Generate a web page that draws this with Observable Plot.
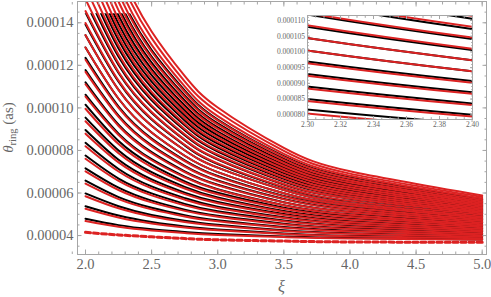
<!DOCTYPE html>
<html><head><meta charset="utf-8">
<script src="https://cdn.jsdelivr.net/npm/d3@7"></script>
<script src="https://cdn.jsdelivr.net/npm/@observablehq/plot@0.6"></script>
<style>
body{margin:0;background:#fff;}
#wrap{position:relative;width:491px;height:297px;overflow:hidden;}
#inset{position:absolute;left:268px;top:10px;}
svg, svg text, svg tspan{font-family:"Liberation Serif","DejaVu Serif",serif !important;}
</style></head><body>
<div id="wrap"><div id="main"></div><div id="inset"></div></div>
<script>
// xi sample positions
const xi = [2, 2.25, 2.5, 2.75, 3, 3.5, 4, 5];
// theta_ring values, in units of 1e-5 as, at the xi positions
const redCurves = [
  [4.68,4.41,4.24,4.12,4.03,3.93,3.86,3.80],
  [5.26,4.85,4.57,4.38,4.25,4.07,3.97,3.87],
  [5.85,5.28,4.90,4.64,4.46,4.22,4.09,3.94],
  [6.44,5.71,5.23,4.90,4.67,4.37,4.20,4.02],
  [7.02,6.14,5.56,5.16,4.88,4.52,4.31,4.09],
  [7.61,6.57,5.89,5.42,5.09,4.67,4.42,4.17],
  [8.20,7.01,6.22,5.69,5.30,4.82,4.53,4.24],
  [8.79,7.44,6.55,5.95,5.52,4.97,4.64,4.31],
  [9.37,7.87,6.88,6.21,5.73,5.11,4.76,4.39],
  [9.96,8.30,7.22,6.47,5.94,5.26,4.87,4.46],
  [10.53,8.73,7.54,6.73,6.15,5.41,4.98,4.53],
  [11.11,9.15,7.87,6.98,6.36,5.55,5.09,4.60],
  [11.69,9.58,8.19,7.24,6.56,5.70,5.20,4.68],
  [12.26,10.00,8.51,7.50,6.77,5.84,5.31,4.75],
  [12.84,10.43,8.84,7.75,6.98,5.99,5.42,4.82],
  [13.42,10.85,9.16,8.01,7.19,6.14,5.52,4.89],
  [13.99,11.28,9.49,8.27,7.39,6.28,5.63,4.97],
  [14.55,11.69,9.81,8.51,7.60,6.42,5.74,5.04],
  [15.11,12.10,10.12,8.76,7.80,6.57,5.85,5.11],
  [15.67,12.51,10.44,9.01,8.00,6.71,5.95,5.18],
  [16.23,12.93,10.75,9.26,8.20,6.85,6.06,5.25],
  [16.79,13.34,11.07,9.51,8.40,6.99,6.17,5.32],
  [17.35,13.75,11.38,9.76,8.61,7.13,6.27,5.39],
  [17.91,14.16,11.70,10.01,8.81,7.27,6.38,5.46],
  [18.47,14.58,12.01,10.26,9.01,7.41,6.49,5.53],
  [19.03,14.99,12.33,10.51,9.21,7.56,6.59,5.60],
  [19.59,15.40,12.64,10.76,9.41,7.70,6.70,5.67],
  [20.15,15.81,12.96,11.01,9.61,7.84,6.81,5.74],
  [20.71,16.23,13.28,11.25,9.82,7.98,6.91,5.81],
  [21.27,16.64,13.59,11.50,10.02,8.12,7.02,5.88]
];
const blackCurves = [
  [4.79,4.49,4.30,4.17,4.07,3.96,3.88,3.81],
  [5.38,4.94,4.64,4.43,4.29,4.10,3.99,3.89],
  [5.98,5.38,4.97,4.70,4.51,4.25,4.11,3.96],
  [6.58,5.81,5.31,4.96,4.72,4.40,4.23,4.04],
  [7.16,6.25,5.64,5.22,4.93,4.56,4.34,4.11],
  [7.76,6.68,5.98,5.49,5.14,4.71,4.45,4.19],
  [8.36,7.13,6.31,5.76,5.36,4.86,4.56,4.26],
  [8.96,7.56,6.64,6.02,5.58,5.01,4.67,4.33],
  [9.54,8.00,6.98,6.29,5.79,5.15,4.79,4.41],
  [10.15,8.44,7.33,6.55,6.01,5.31,4.91,4.48],
  [10.62,8.79,7.59,6.77,6.18,5.43,5.00,4.54],
  [11.20,9.21,7.92,7.02,6.39,5.57,5.11,4.61],
  [11.78,9.64,8.24,7.28,6.59,5.72,5.22,4.69],
  [12.35,10.06,8.56,7.54,6.80,5.86,5.33,4.76],
  [12.84,10.43,8.84,7.75,6.98,5.99,5.42,4.82],
  [13.42,10.85,9.16,8.01,7.19,6.14,5.52,4.89],
  [13.92,11.23,9.45,8.24,7.36,6.26,5.62,4.96],
  [14.48,11.64,9.77,8.48,7.57,6.40,5.73,5.03],
  [15.00,12.02,10.06,8.71,7.76,6.54,5.83,5.10],
  [15.53,12.40,10.36,8.95,7.95,6.67,5.92,5.16],
  [16.04,12.79,10.64,9.18,8.13,6.80,6.02,5.23],
  [16.57,13.18,10.95,9.41,8.32,6.94,6.13,5.29],
  [17.09,13.56,11.23,9.64,8.52,7.06,6.22,5.36],
  [17.62,13.95,11.54,9.88,8.71,7.20,6.33,5.42],
  [18.14,14.34,11.82,10.11,8.89,7.33,6.43,5.49],
  [18.67,14.73,12.13,10.35,9.08,7.47,6.52,5.56],
  [19.19,15.10,12.41,10.58,9.27,7.60,6.62,5.62],
  [19.72,15.49,12.72,10.82,9.45,7.73,6.73,5.69]
];
const dashedCurve = [4.15,4.03,3.94,3.86,3.80,3.74,3.70,3.68];
const blackLimit = 0.0001445;

const xTicksMain = [2, 2.5, 3, 3.5, 4, 4.5, 5];
const yTicksMain = [0.00004, 0.00006, 0.00008, 0.00010, 0.00012, 0.00014];
const xTicksInset = [2.30, 2.32, 2.34, 2.36, 2.38, 2.40];
const yTicksInset = [0.000080, 0.000085, 0.000090, 0.000095, 0.000100, 0.000105, 0.000110];

const rows = curves => curves.flatMap((c, i) => c.map((v, j) => ({x: xi[j], y: v * 1e-5, id: i})));
const redRows = rows(redCurves);
const blackRows = rows(blackCurves);
const dashedRows = rows([dashedCurve]);

const RED = "#dc2222";
const FRAME = "#a6a6a6";
const TXT = "#666666";
const font = '"Liberation Serif","DejaVu Serif",serif';

function axesMarks(xMaj, xMin, yMaj, yMin, fx, fy, big, small, pad) {
  const common = {stroke: FRAME, tickFormat: () => ""};
  return [
    Plot.axisX(xMin, {anchor: "bottom", tickSize: -small, ...common}),
    Plot.axisX(xMin, {anchor: "top", tickSize: -small, ...common}),
    Plot.axisY(yMin, {anchor: "left", tickSize: -small, ...common}),
    Plot.axisY(yMin, {anchor: "right", tickSize: -small, ...common}),
    Plot.axisX(xMaj, {anchor: "bottom", tickSize: -big, ...common}),
    Plot.axisX(xMaj, {anchor: "top", tickSize: -big, ...common}),
    Plot.axisY(yMaj, {anchor: "left", tickSize: -big, ...common}),
    Plot.axisY(yMaj, {anchor: "right", tickSize: -big, ...common}),
    Plot.axisX(xMaj, {anchor: "bottom", tickSize: 0, tickPadding: pad, tickFormat: fx, fill: TXT}),
    Plot.axisY(yMaj, {anchor: "left", tickSize: 0, tickPadding: pad, tickFormat: fy, fill: TXT})
  ];
}

const main = Plot.plot({
  width: 491, height: 297,
  marginLeft: 77, marginRight: 5, marginTop: 1, marginBottom: 43,
  x: {domain: [1.9395, 5.0325], label: null},
  y: {domain: [0.0000311, 0.00015], label: null},
  style: {fontSize: "14.5px", color: TXT, background: "transparent"},
  marks: [
    Plot.line(blackRows, {x: "x", y: "y", z: "id", stroke: "#000000", strokeWidth: 2, curve: "natural"}),
    Plot.line(redRows, {x: "x", y: "y", z: "id", stroke: RED, strokeWidth: 2, curve: "natural", clip: true}),
    Plot.line(dashedRows, {x: "x", y: "y", stroke: RED, strokeWidth: 3, strokeDasharray: "5,3", curve: "natural", clip: true}),
    Plot.frame({stroke: FRAME}),
    ...axesMarks(xTicksMain, d3.range(19, 51).map(d => d / 10), yTicksMain,
      d3.range(7, 31).map(d => d * 0.000005), d3.format(".1f"), d3.format(".5f"), 4.5, 2.5, 4)
  ]
});
main.setAttribute("font-family", font);
main.setAttribute("font-size", "14.5");

// clip the black family at its own upper plot limit
{
  const xs = main.scale("x"), ys = main.scale("y");
  const top = ys.apply(blackLimit);
  const svg = d3.select(main);
  svg.append("defs").append("clipPath").attr("id", "blackclip")
    .append("rect").attr("x", xs.range[0]).attr("y", top)
    .attr("width", xs.range[1] - xs.range[0]).attr("height", ys.range[0] - top);
  svg.select('g[stroke="#000000"]').attr("clip-path", "url(#blackclip)");
  // axis titles
  const yl = svg.append("text").attr("transform", `translate(13,${(ys.range[0] + ys.range[1]) / 2}) rotate(-90)`)
    .attr("text-anchor", "middle").attr("fill", TXT).attr("font-size", 15);
  yl.append("tspan").attr("font-style", "italic").text("θ");
  yl.append("tspan").attr("font-size", 10.5).attr("dy", 3).text("ring");
  yl.append("tspan").attr("dy", -3).text(" (as)");
  svg.append("text").attr("x", (xs.range[0] + xs.range[1]) / 2).attr("y", 292)
    .attr("text-anchor", "middle").attr("fill", TXT).attr("font-size", 16).attr("font-style", "italic").text("ξ");
}
document.getElementById("main").appendChild(main);

const inset = Plot.plot({
  width: 214, height: 122,
  marginLeft: 39, marginRight: 10, marginTop: 5, marginBottom: 13,
  x: {domain: [2.30, 2.40], label: null},
  y: {domain: [0.0000785, 0.00011159], label: null},
  style: {fontSize: "7.5px", color: TXT, background: "white"},
  marks: [
    Plot.line(blackRows, {x: "x", y: "y", z: "id", stroke: "#000000", strokeWidth: 2, curve: "natural", clip: true}),
    Plot.line(redRows, {x: "x", y: "y", z: "id", stroke: RED, strokeWidth: 2, curve: "natural", clip: true}),
    Plot.frame({stroke: FRAME}),
    ...axesMarks(xTicksInset, d3.range(460, 481).map(d => d / 200), yTicksInset,
      d3.range(78, 112).map(d => d * 0.000001), d3.format(".2f"), d3.format(".6f"), 3, 1.8, 2.5)
  ]
});
inset.setAttribute("font-family", font);
inset.setAttribute("font-size", "7.5");
document.getElementById("inset").appendChild(inset);
</script>
</body></html>
